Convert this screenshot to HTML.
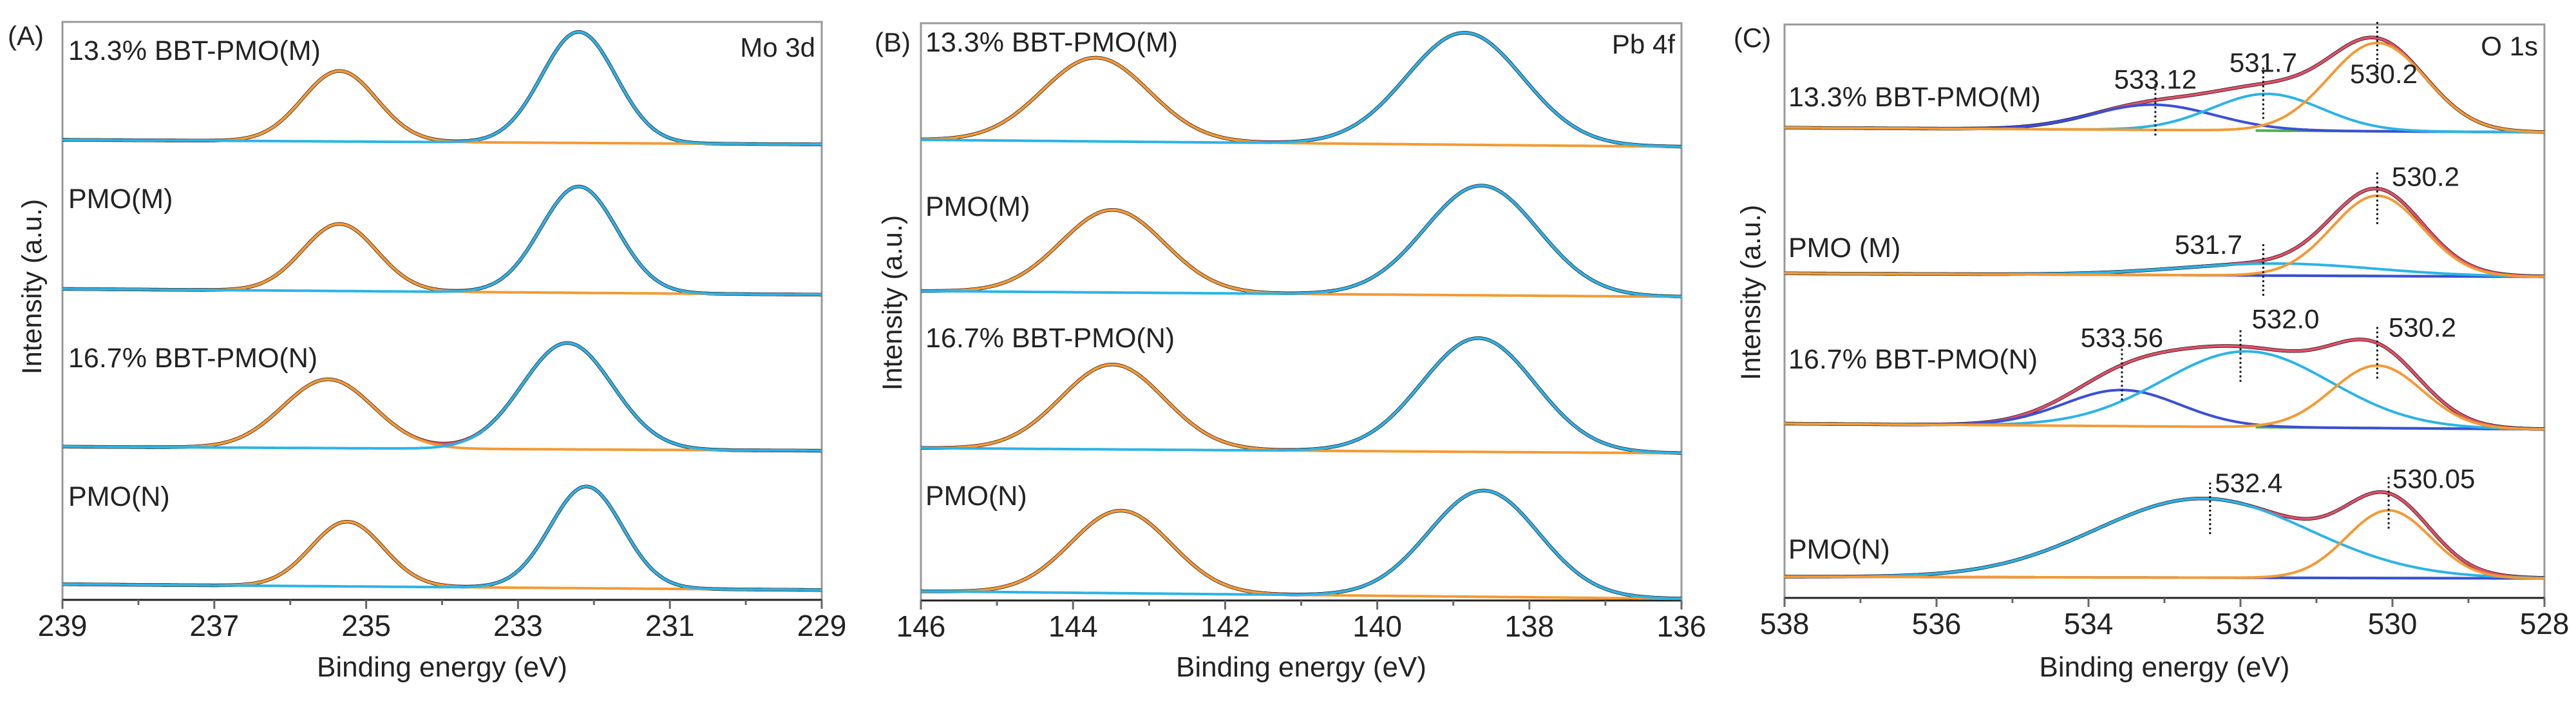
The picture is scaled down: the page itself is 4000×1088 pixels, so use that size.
<!DOCTYPE html>
<html><head><meta charset="utf-8"><style>
html,body{margin:0;padding:0;background:#fff;}
svg{display:block;font-family:"Liberation Sans",Arial,sans-serif;}
</style></head><body>
<svg id="fig" width="4000" height="1088" viewBox="0 0 4000 1088" xmlns="http://www.w3.org/2000/svg"></svg>
<script>
// ---- Panel A: Mo 3d ----
const moLabels=["13.3% BBT-PMO(M)","PMO(M)","16.7% BBT-PMO(N)","PMO(N)"];
const moBaseL=[79.6,53.8,26.5,2.7];
const moBaseR=[78.8,52.8,25.8,1.7];
const moP1Pos=[235.35,235.35,235.5,235.25];
const moP1Amp=[12.2,11.6,11.9,11.2];
const moP1Fwhm=[1.15,1.15,1.4,1.12];
const moP2Pos=[232.2,232.2,232.35,232.1];
const moP2Amp=[19.2,18.4,18.4,17.6];
const moP2Fwhm=[1.15,1.18,1.4,1.12];
const moTicks=[239,237,235,233,231,229];
// ---- Panel B: Pb 4f ----
const pbLabels=["13.3% BBT-PMO(M)","PMO(M)","16.7% BBT-PMO(N)","PMO(N)"];
const pbBaseL=[79.8,53.6,26.4,1.6];
const pbBaseR=[78.6,52.6,25.5,0.3];
const pbP1Pos=[143.7,143.48,143.48,143.37];
const pbP1Amp=[14.5,14.3,14.7,14.3];
const pbP1Fwhm=[1.65,1.6,1.6,1.55];
const pbP2Pos=[138.85,138.63,138.67,138.6];
const pbP2Amp=[19.4,19.0,19.7,18.4];
const pbP2Fwhm=[1.8,1.75,1.75,1.7];
const pbTicks=[146,144,142,140,138,136];
// ---- Panel C: O 1s ----
const oLabels=["13.3% BBT-PMO(M)","PMO (M)","16.7% BBT-PMO(N)","PMO(N)"];
const oBaseL=[82.0,56.6,30.4,3.7];
const oBaseR=[81.2,56.0,29.4,3.4];
const oLatPos=[530.2,530.2,530.2,530.05];
const oLatAmp=[15.4,14.0,10.9,11.8];
const oLatFwhm=[1.5,1.4,1.4,1.3];
const oOhPos=[531.65,531.5,531.92,532.5];
const oOhAmp=[6.4,2.1,13.2,13.8];
const oOhFwhm=[1.7,3.0,2.6,3.3];
const oH2oPos=[533.15,533.0,533.56,533.0];
const oH2oAmp=[4.4,0,6.3,0];
const oH2oFwhm=[1.9,1.0,1.8,1.0];
const oTicks=[538,536,534,532,530,528];
// annotations: trace index, energy, text
const annTrace=[0,0,0,1,1,2,2,2,3,3];
const annE=[533.12,531.7,530.2,530.2,531.7,533.56,532.0,530.2,532.4,530.05];
const annText=["533.12","531.7","530.2","530.2","531.7","533.56","532.0","530.2","532.4","530.05"];

const NS="http://www.w3.org/2000/svg";
const svg=document.getElementById('fig');
function el(tag,attrs,parent){const e=document.createElementNS(NS,tag);for(const k in attrs)e.setAttribute(k,attrs[k]);(parent||svg).appendChild(e);return e;}
function gauss(x,p,a,f){if(!a)return 0;const s=f/2.3548;return a*Math.exp(-0.5*((x-p)/s)**2);}

function makePanel(cfg){
  const g=el('g',{});
  
  
  const xs=e=>cfg.L+(cfg.emax-e)/(cfg.emax-cfg.emin)*(cfg.R-cfg.L);
  const ys=v=>cfg.B-v/100*(cfg.B-cfg.T);
  cfg.xs=xs;cfg.ys=ys;
  const fr=el('rect',{x:cfg.L,y:cfg.T,width:cfg.R-cfg.L,height:cfg.B-cfg.T,fill:'none',stroke:'#999','stroke-width':3},g);
  
  const ax=el('line',{x1:cfg.L,x2:cfg.R,y1:cfg.B,y2:cfg.B,stroke:'#222','stroke-width':3},g);
  
  for(let e=cfg.emin;e<=cfg.emax;e+=1){
    const major=((cfg.emax-e)%2===0);
    el('line',{x1:xs(e),x2:xs(e),y1:cfg.B,y2:cfg.B+(major?14:8),stroke:'#666','stroke-width':3},g);
  }
  cfg.ticks.forEach(t=>{
    const tx=el('text',{x:xs(t),y:cfg.B+56,'font-size':46,'text-anchor':'middle',fill:'#222'},g);
    
    tx.textContent=t;
  });
  const xl=el('text',{x:(cfg.L+cfg.R)/2,y:1050,'font-size':44,'text-anchor':'middle',fill:'#222'},g);
  
  xl.textContent='Binding energy (eV)';
  const yl=el('text',{x:0,y:0,'font-size':43,'text-anchor':'middle',fill:'#222',transform:`translate(${cfg.ylx},${cfg.yly}) rotate(-90)`},g);
  
  yl.textContent='Intensity (a.u.)';
  const pl=el('text',{x:cfg.plx,y:cfg.ply,'font-size':42,'text-anchor':'middle',fill:'#222'},g);
  
  pl.textContent=cfg.letter;
  const rl=el('text',{x:cfg.R-10,y:cfg.rly,'font-size':42,'text-anchor':'end',fill:'#222'},g);
  
  rl.textContent=cfg.core;
  return g;
}
function pathFrom(cfg,fn){
  let d='';for(let e=cfg.emax;e>=cfg.emin-1e-9;e-=0.02){d+=(d?'L':'M')+cfg.xs(e).toFixed(1)+','+cfg.ys(fn(e)).toFixed(1);}return d;
}
function drawTrace(cfg,g,i,comps,colors,label,labY){
  const base=e=>cfg.bl[i]+(cfg.br[i]-cfg.bl[i])*(cfg.emax-e)/(cfg.emax-cfg.emin);
  const env=e=>base(e)+comps.reduce((s,c)=>s+c(e),0);
  const tg=el('g',{},g);
  
  const d=el('path',{d:pathFrom(cfg,env),fill:'none',stroke:'#111','stroke-width':5.5,'stroke-linejoin':'round'},tg);
  
  const r=el('path',{d:pathFrom(cfg,env),fill:'none',stroke:'#e0506a','stroke-width':4},tg);
  
  comps.forEach((c,k)=>{
    const p=el('path',{d:pathFrom(cfg,e=>base(e)+c(e)),fill:'none',stroke:colors[k],'stroke-width':4},tg);
    
  });
  const t=el('text',{x:cfg.slx,y:labY,'font-size':43,fill:'#222'},tg);
  
  t.textContent=label;
  return env;
}

const A={name:'panel-a-mo3d',L:97,R:1276,T:34,B:931,emin:229,emax:239,ticks:moTicks,ylx:64,yly:445,plx:40,ply:70,letter:'(A)',core:'Mo 3d',rly:88,slx:106,bl:moBaseL,br:moBaseR};
const gA=makePanel(A);
const labYA=[93,323,570,785];
for(let i=0;i<4;i++){
  drawTrace(A,gA,i,[e=>gauss(e,moP1Pos[i],moP1Amp[i],moP1Fwhm[i]),e=>gauss(e,moP2Pos[i],moP2Amp[i],moP2Fwhm[i])],['#f39a35','#2cb3e6'],moLabels[i],labYA[i]);
}
const Bp={name:'panel-b-pb4f',L:1430,R:2611,T:36,B:932,emin:136,emax:146,ticks:pbTicks,ylx:1400,yly:470,plx:1386,ply:80,letter:'(B)',core:'Pb 4f',rly:83,slx:1437,bl:pbBaseL,br:pbBaseR};
const gB=makePanel(Bp);
const labYB=[80,335,539,784];
for(let i=0;i<4;i++){
  drawTrace(Bp,gB,i,[e=>gauss(e,pbP1Pos[i],pbP1Amp[i],pbP1Fwhm[i]),e=>gauss(e,pbP2Pos[i],pbP2Amp[i],pbP2Fwhm[i])],['#f39a35','#2cb3e6'],pbLabels[i],labYB[i]);
}
const C={name:'panel-c-o1s',L:2771,R:3951,T:38,B:928,emin:528,emax:538,ticks:oTicks,ylx:2733,yly:454,plx:2721,ply:73,letter:'(C)',core:'O 1s',rly:86,slx:2777,bl:oBaseL,br:oBaseR};
const gC=makePanel(C);
const labYC=[165,399,572,867];
const envs=[];
for(let i=0;i<4;i++){
  const bz=e=>C.bl[i]+(C.br[i]-C.bl[i])*(C.emax-e)/(C.emax-C.emin);
  const gl=el('line',{x1:C.xs(oLatPos[i]+1.6),x2:C.xs(oLatPos[i]-1.6),y1:C.ys(bz(oLatPos[i]+1.6)),y2:C.ys(bz(oLatPos[i]-1.6)),stroke:'#4caf50','stroke-width':4},gC);
  
  envs.push(drawTrace(C,gC,i,[
    e=>gauss(e,oH2oPos[i],oH2oAmp[i],oH2oFwhm[i]),
    e=>gauss(e,oOhPos[i],oOhAmp[i],oOhFwhm[i]),
    e=>gauss(e,oLatPos[i],oLatAmp[i],oLatFwhm[i])],['#3a4fd6','#2cb3e6','#f39a35'],oLabels[i],labYC[i]));
}
const annDx=[0,0,10,75,-85,0,70,70,60,70];
const annDy=[-18,-18,70,-4,-10,-28,-28,-10,-10,-8];
for(let k=0;k<annE.length;k++){
  const i=annTrace[k];
  const x=C.xs(annE[k]);
  const yc=C.ys(envs[i](annE[k]));
  const ln=el('line',{x1:x,x2:x,y1:yc-25,y2:yc+55,stroke:'#111','stroke-width':3,'stroke-dasharray':'3 4'},gC);
  
  const t=el('text',{x:x+annDx[k],y:yc+annDy[k],'font-size':42,'text-anchor':'middle',fill:'#222'},gC);
  
  t.textContent=annText[k];
}
</script>
</body></html>
